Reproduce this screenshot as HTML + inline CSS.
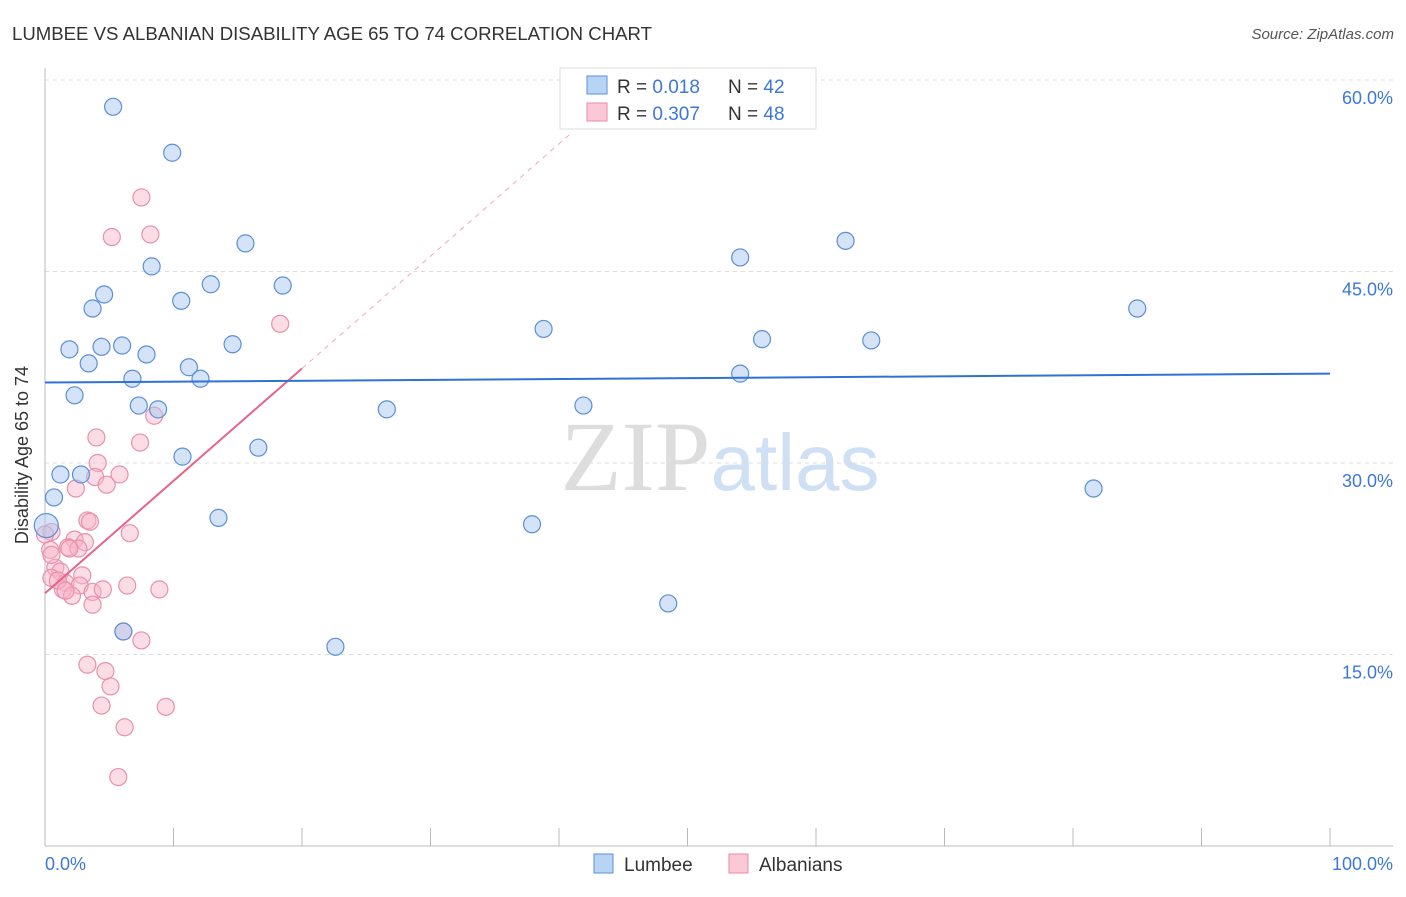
<!DOCTYPE html>
<html><head><meta charset="utf-8"><style>
body{margin:0;background:#fff;font-family:"Liberation Sans",sans-serif}
</style></head><body>
<svg id="chart" width="1406" height="892" xmlns="http://www.w3.org/2000/svg" font-family="Liberation Sans, sans-serif">
<text x="12" y="40" font-size="18.6" fill="#333">LUMBEE VS ALBANIAN DISABILITY AGE 65 TO 74 CORRELATION CHART</text>
<text x="1394" y="39" font-size="15" fill="#555" text-anchor="end" font-style="italic">Source: ZipAtlas.com</text>
<text x="720" y="490" font-size="100" fill="#ddd" text-anchor="middle" font-family="Liberation Serif, serif">ZIP<tspan fill="#cfe0f5" font-family="Liberation Sans, sans-serif" font-size="80">atlas</tspan></text>
<g id="grid"></g>
<g id="marks"></g>
<text x="28" y="455" font-size="18" fill="#333" text-anchor="middle" transform="rotate(-90 28 455)">Disability Age 65 to 74</text>
<text x="45" y="870" font-size="18" fill="#3b78d8">0.0%</text>
<text x="1393" y="870" font-size="18" fill="#3b78d8" text-anchor="end">100.0%</text>
<g>
<rect x="560" y="68" width="256" height="61" fill="#fff" stroke="#ddd"/>
<rect x="587" y="76" width="20" height="18" fill="#b8d4f5" stroke="#5b8fd8"/>
<rect x="587" y="103" width="20" height="18" fill="#fbc8d6" stroke="#e88aa8"/>
<text x="617" y="93" font-size="19" fill="#333">R = <tspan fill="#3b78d8">0.018</tspan><tspan x="728">N = </tspan><tspan fill="#3b78d8">42</tspan></text>
<text x="617" y="120" font-size="19" fill="#333">R = <tspan fill="#3b78d8">0.307</tspan><tspan x="728">N = </tspan><tspan fill="#3b78d8">48</tspan></text>
</g>
<g>
<rect x="594" y="854" width="19" height="19" fill="#b8d4f5" stroke="#5b8fd8"/>
<text x="624" y="871" font-size="19" fill="#333">Lumbee</text>
<rect x="729" y="854" width="19" height="19" fill="#fbc8d6" stroke="#e88aa8"/>
<text x="759" y="871" font-size="19" fill="#333">Albanians</text>
</g>
</svg>
<script>
const yTicks=[15,30,45,60];
const xTickCount=10;
const lumbeeX=[5.3,9.9,15.6,8.3,12.9,18.5,4.6,10.6,3.7,38.8,1.9,4.4,6.0,14.6,7.9,3.4,11.2,6.8,12.1,2.3,7.3,8.8,26.6,41.9,16.6,10.7,1.2,2.8,0.7,13.5,0.1,37.9,6.1,22.6,48.5,54.1,62.3,55.8,64.3,54.1,85.0,81.6];
const lumbeeY=[57.9,54.3,47.2,45.4,44.0,43.9,43.2,42.7,42.1,40.5,38.9,39.1,39.2,39.3,38.5,37.8,37.5,36.6,36.6,35.3,34.5,34.2,34.2,34.5,31.2,30.5,29.1,29.1,27.3,25.7,25.1,25.2,16.8,15.6,19.0,46.1,47.4,39.7,39.6,37.0,42.1,28.0];
const albX=[7.5,5.2,8.2,18.3,8.5,4.0,7.4,4.1,5.8,3.9,4.8,2.4,3.3,3.5,6.6,0.5,2.3,3.1,1.8,2.6,0.4,0.8,1.2,2.9,0.5,1.6,2.7,1.4,2.1,3.7,4.5,6.4,8.9,3.7,6.1,7.5,3.3,4.7,5.1,4.4,9.4,6.2,5.7,0.5,1.0,1.9,0.0,1.6];
const albY=[50.8,47.7,47.9,40.9,33.7,32.0,31.6,30.0,29.1,28.9,28.3,28.0,25.5,25.4,24.5,24.6,24.0,23.8,23.4,23.3,23.2,21.8,21.5,21.2,21.0,20.6,20.4,20.1,19.6,19.9,20.1,20.4,20.1,18.9,16.8,16.1,14.2,13.7,12.5,11.0,10.9,9.3,5.4,22.8,20.8,23.3,24.4,20.0];
const lumbeeTrend=[36.3,37.0];
const albTrend=[19.8,0.88];
const X=v=>45+v*12.85;
const Y=v=>846-v*12.767;
const NS='http://www.w3.org/2000/svg';
function mk(t,a,p){const e=document.createElementNS(NS,t);for(const k in a)e.setAttribute(k,a[k]);p.appendChild(e);return e;}
const grid=document.getElementById('grid'),marks=document.getElementById('marks');
yTicks.forEach(t=>{
 const l=mk('line',{x1:45,x2:1393,y1:Y(t),y2:Y(t),stroke:'#ddd','stroke-dasharray':'4,4'},grid);
 
 
 const tx=mk('text',{x:1393,y:Y(t)+24,'font-size':18,fill:'#3b78d8','text-anchor':'end'},grid);
 tx.textContent=t.toFixed(1)+'%';
 
 
});
for(let i=0;i<=xTickCount;i++){
 const l=mk('line',{x1:X(i*10),x2:X(i*10),y1:828,y2:846,stroke:'#bbb'},grid);
 
 
}
const ya=mk('line',{x1:45,x2:45,y1:68,y2:846,stroke:'#bbb'},grid);


const xa=mk('line',{x1:45,x2:1393,y1:846,y2:846,stroke:'#bbb'},grid);


albX.forEach((x,i)=>{
 const c=mk('circle',{cx:X(x),cy:Y(albY[i]),r:8.5,fill:'rgba(248,180,200,0.45)',stroke:'#e890ac','stroke-width':1.2},marks);
 
 
});
lumbeeX.forEach((x,i)=>{
 const c=mk('circle',{cx:X(x),cy:Y(lumbeeY[i]),r:i==30?12:8.5,fill:'rgba(170,200,240,0.5)',stroke:'#5b8fd8','stroke-width':1.2},marks);
 
 
});
const ad=mk('line',{x1:X(20),y1:Y(albTrend[0]+albTrend[1]*20),x2:X(41),y2:Y(albTrend[0]+albTrend[1]*41),stroke:'#f0a8bc','stroke-dasharray':'5,5','stroke-width':1},marks);


const al=mk('line',{x1:X(0),y1:Y(albTrend[0]),x2:X(20),y2:Y(albTrend[0]+albTrend[1]*20),stroke:'#e8628a','stroke-width':2},marks);


const ll=mk('line',{x1:X(0),y1:Y(lumbeeTrend[0]),x2:X(100),y2:Y(lumbeeTrend[1]),stroke:'#2f72d6','stroke-width':2},marks);


</script>
</body></html>
